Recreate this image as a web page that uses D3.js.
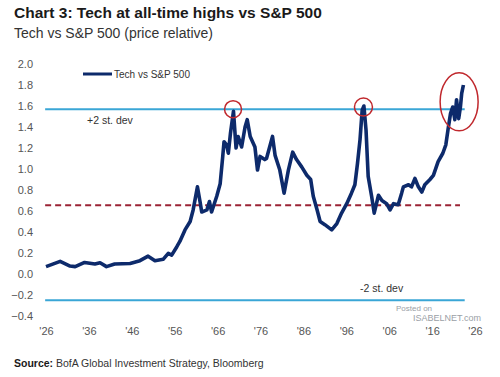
<!DOCTYPE html>
<html>
<head>
<meta charset="utf-8">
<script src="https://cdn.jsdelivr.net/npm/d3@7"></script>
<style>
  body { margin: 0; background: #fff; }
  text { font-family: "Liberation Sans Narrow", "Liberation Sans", "DejaVu Sans Condensed", sans-serif; }
</style>
</head>
<body>
<div id="chart"></div>
<script>
// data
const years = [1926, 1929.3, 1931.6, 1932.8, 1935, 1937.4, 1938.6, 1940.1, 1942, 1945.6, 1947.9, 1949.8, 1951.4, 1953.3, 1954.5, 1955.3, 1956.5,
  1957.2, 1958.4, 1959.6, 1960.3, 1961.3, 1961.9, 1962.3, 1963.5, 1964.1, 1964.6, 1965.8, 1966.6, 1967.2, 1967.5, 1968.1, 1968.5, 1969, 1969.7,
  1970.3, 1970.8, 1971.6, 1972.4, 1972.9, 1973.6, 1974.7, 1975.3, 1975.9, 1977, 1977.4, 1978.8, 1979.4, 1980.5, 1981.5, 1982.5, 1983.5, 1984.4,
  1985.6, 1986.8, 1987.7, 1988.3, 1989.2, 1989.9, 1991, 1992.6, 1993.8, 1994.9, 1996.1, 1997.2, 1998, 1998.6, 1999.2, 1999.7, 2000.1, 2000.6,
  2001.1, 2001.9, 2002.5, 2003.5, 2004.3, 2005.4, 2006.2, 2007, 2008.1, 2008.9, 2009.3, 2010.5, 2011.2, 2012, 2012.8, 2013.6, 2014.3, 2015.5,
  2016.3, 2017.4, 2018.5, 2019.2, 2019.8, 2020.3, 2020.8, 2021.3, 2021.7, 2022.2, 2022.6, 2022.9, 2023.3];
const ratio = [0.07, 0.12, 0.076, 0.07, 0.11, 0.095, 0.107, 0.07, 0.095, 0.10, 0.127, 0.17, 0.127, 0.14, 0.197, 0.18, 0.26,
  0.31, 0.42, 0.50, 0.61, 0.83, 0.69, 0.59, 0.61, 0.69, 0.59, 0.74, 0.86, 1.12, 1.26, 1.23, 1.15, 1.34, 1.55,
  1.20, 1.31, 1.21, 1.40, 1.47, 1.31, 1.21, 0.99, 1.12, 1.09, 1.10, 1.31, 1.13, 0.99, 0.77, 0.99, 1.16, 1.09,
  1.02, 0.94, 0.90, 0.74, 0.61, 0.50, 0.47, 0.42, 0.48, 0.58, 0.67, 0.77, 0.85, 1.05, 1.28, 1.56, 1.60, 1.37,
  0.93, 0.74, 0.58, 0.75, 0.70, 0.67, 0.61, 0.67, 0.66, 0.77, 0.83, 0.85, 0.83, 0.91, 0.83, 0.78, 0.85, 0.90,
  0.94, 1.07, 1.15, 1.23, 1.40, 1.53, 1.59, 1.47, 1.66, 1.48, 1.59, 1.72, 1.80];

const yTicks = [-0.4, -0.2, 0.0, 0.2, 0.4, 0.6, 0.8, 1.0, 1.2, 1.4, 1.6, 1.8, 2.0];
const xTicks = [1926, 1936, 1946, 1956, 1966, 1976, 1986, 1996, 2006, 2016, 2026];

const upperBand = 1.57;   // +2 st. dev
const lowerBand = -0.25;  // -2 st. dev
const meanLevel = 0.655;  // average (dashed)

// highlighted peaks: [year, value, rx, ry] radii in px
const peaks = [[1969.6, 1.57, 8.5, 8.5], [2000.0, 1.59, 9, 9], [2022.3, 1.64, 19, 29]];

// Step 1: set up
const svgWidth = 500, svgHeight = 377;
const svg = d3.select("#chart").append("svg")
  .attr("width", svgWidth)
  .attr("height", svgHeight);

const x = d3.scaleLinear().domain([1926, 2026]).range([46, 475]);
const y = d3.scaleLinear().domain([-0.4, 2.0]).range([316, 64]);

// titles
svg.append("text")
  .attr("x", 14).attr("y", 18)
  .attr("font-size", 15.5).attr("font-weight", "bold").attr("fill", "#1a1a1a")
  .text("Chart 3: Tech at all-time highs vs S&P 500");
svg.append("text")
  .attr("x", 14).attr("y", 38)
  .attr("font-size", 14).attr("fill", "#333")
  .text("Tech vs S&P 500 (price relative)");

// Step 2: axes (labels only)
const yAxis = svg.append("g")
  .attr("transform", "translate(35,0)")
  .call(d3.axisLeft(y).tickValues(yTicks).tickSize(0).tickPadding(2).tickFormat(d3.format(".1f")));
yAxis.select(".domain").remove();
yAxis.selectAll("text").attr("font-size", 11).attr("fill", "#555")
  .style("font-family", "'Liberation Sans', sans-serif");

const xAxis = svg.append("g")
  .attr("transform", "translate(0,323)")
  .call(d3.axisBottom(x).tickValues(xTicks).tickSize(0).tickPadding(4)
    .tickFormat(d => "'" + String(d).slice(2)));
xAxis.select(".domain").remove();
xAxis.selectAll("text").attr("font-size", 11).attr("fill", "#555")
  .style("font-family", "'Liberation Sans', sans-serif");

// Step 3: reference lines
svg.append("line")
  .attr("x1", x(1925.8)).attr("x2", x(2023.6))
  .attr("y1", y(upperBand)).attr("y2", y(upperBand))
  .attr("stroke", "#3aa6d6").attr("stroke-width", 2);
svg.append("line")
  .attr("x1", x(1925.8)).attr("x2", x(2023.6))
  .attr("y1", y(lowerBand)).attr("y2", y(lowerBand))
  .attr("stroke", "#3aa6d6").attr("stroke-width", 2);
svg.append("line")
  .attr("x1", x(1925.8)).attr("x2", x(2022.5))
  .attr("y1", y(meanLevel)).attr("y2", y(meanLevel))
  .attr("stroke", "#9b2335").attr("stroke-width", 2).attr("stroke-dasharray", "6,4");

svg.append("text")
  .attr("x", 87).attr("y", y(upperBand) + 15)
  .attr("font-size", 10.5).attr("fill", "#333")
  .text("+2 st. dev");
svg.append("text")
  .attr("x", 360).attr("y", y(lowerBand) - 8)
  .attr("font-size", 10.5).attr("fill", "#333")
  .text("-2 st. dev");

// Step 4: series line
const line = d3.line()
  .x((d, i) => x(years[i]))
  .y(d => y(d));
svg.append("path")
  .attr("d", line(ratio))
  .attr("fill", "none")
  .attr("stroke", "#0d2a6b")
  .attr("stroke-width", 3.6)
  .attr("stroke-linejoin", "round");

// Step 5: peak markers
svg.selectAll("ellipse.peak")
  .data(peaks)
  .enter()
  .append("ellipse")
  .attr("cx", d => x(d[0]))
  .attr("cy", d => y(d[1]))
  .attr("rx", d => d[2])
  .attr("ry", d => d[3])
  .attr("fill", "none")
  .attr("stroke", "#c0282d")
  .attr("stroke-width", 1.5);

// legend
svg.append("line")
  .attr("x1", 83).attr("x2", 112).attr("y1", 74).attr("y2", 74)
  .attr("stroke", "#0d2a6b").attr("stroke-width", 3);
svg.append("text")
  .attr("x", 114).attr("y", 78)
  .attr("font-size", 10).attr("fill", "#333")
  .text("Tech vs  S&P 500");

// watermark
svg.append("text")
  .attr("x", 396).attr("y", 311)
  .attr("font-size", 8).attr("fill", "#9aa0a6")
  .style("font-family", "'Liberation Sans', sans-serif")
  .text("Posted on");
svg.append("text")
  .attr("x", 413).attr("y", 321)
  .attr("font-size", 9).attr("fill", "#9aa0a6")
  .style("font-family", "'Liberation Sans', sans-serif")
  .text("ISABELNET.com");

// source
const src = svg.append("text")
  .attr("x", 14).attr("y", 367)
  .attr("font-size", 10.5).attr("fill", "#333");
src.append("tspan").attr("font-weight", "bold").attr("fill", "#1a1a1a").text("Source:");
src.append("tspan").text("  BofA Global Investment Strategy, Bloomberg");
</script>
</body>
</html>
